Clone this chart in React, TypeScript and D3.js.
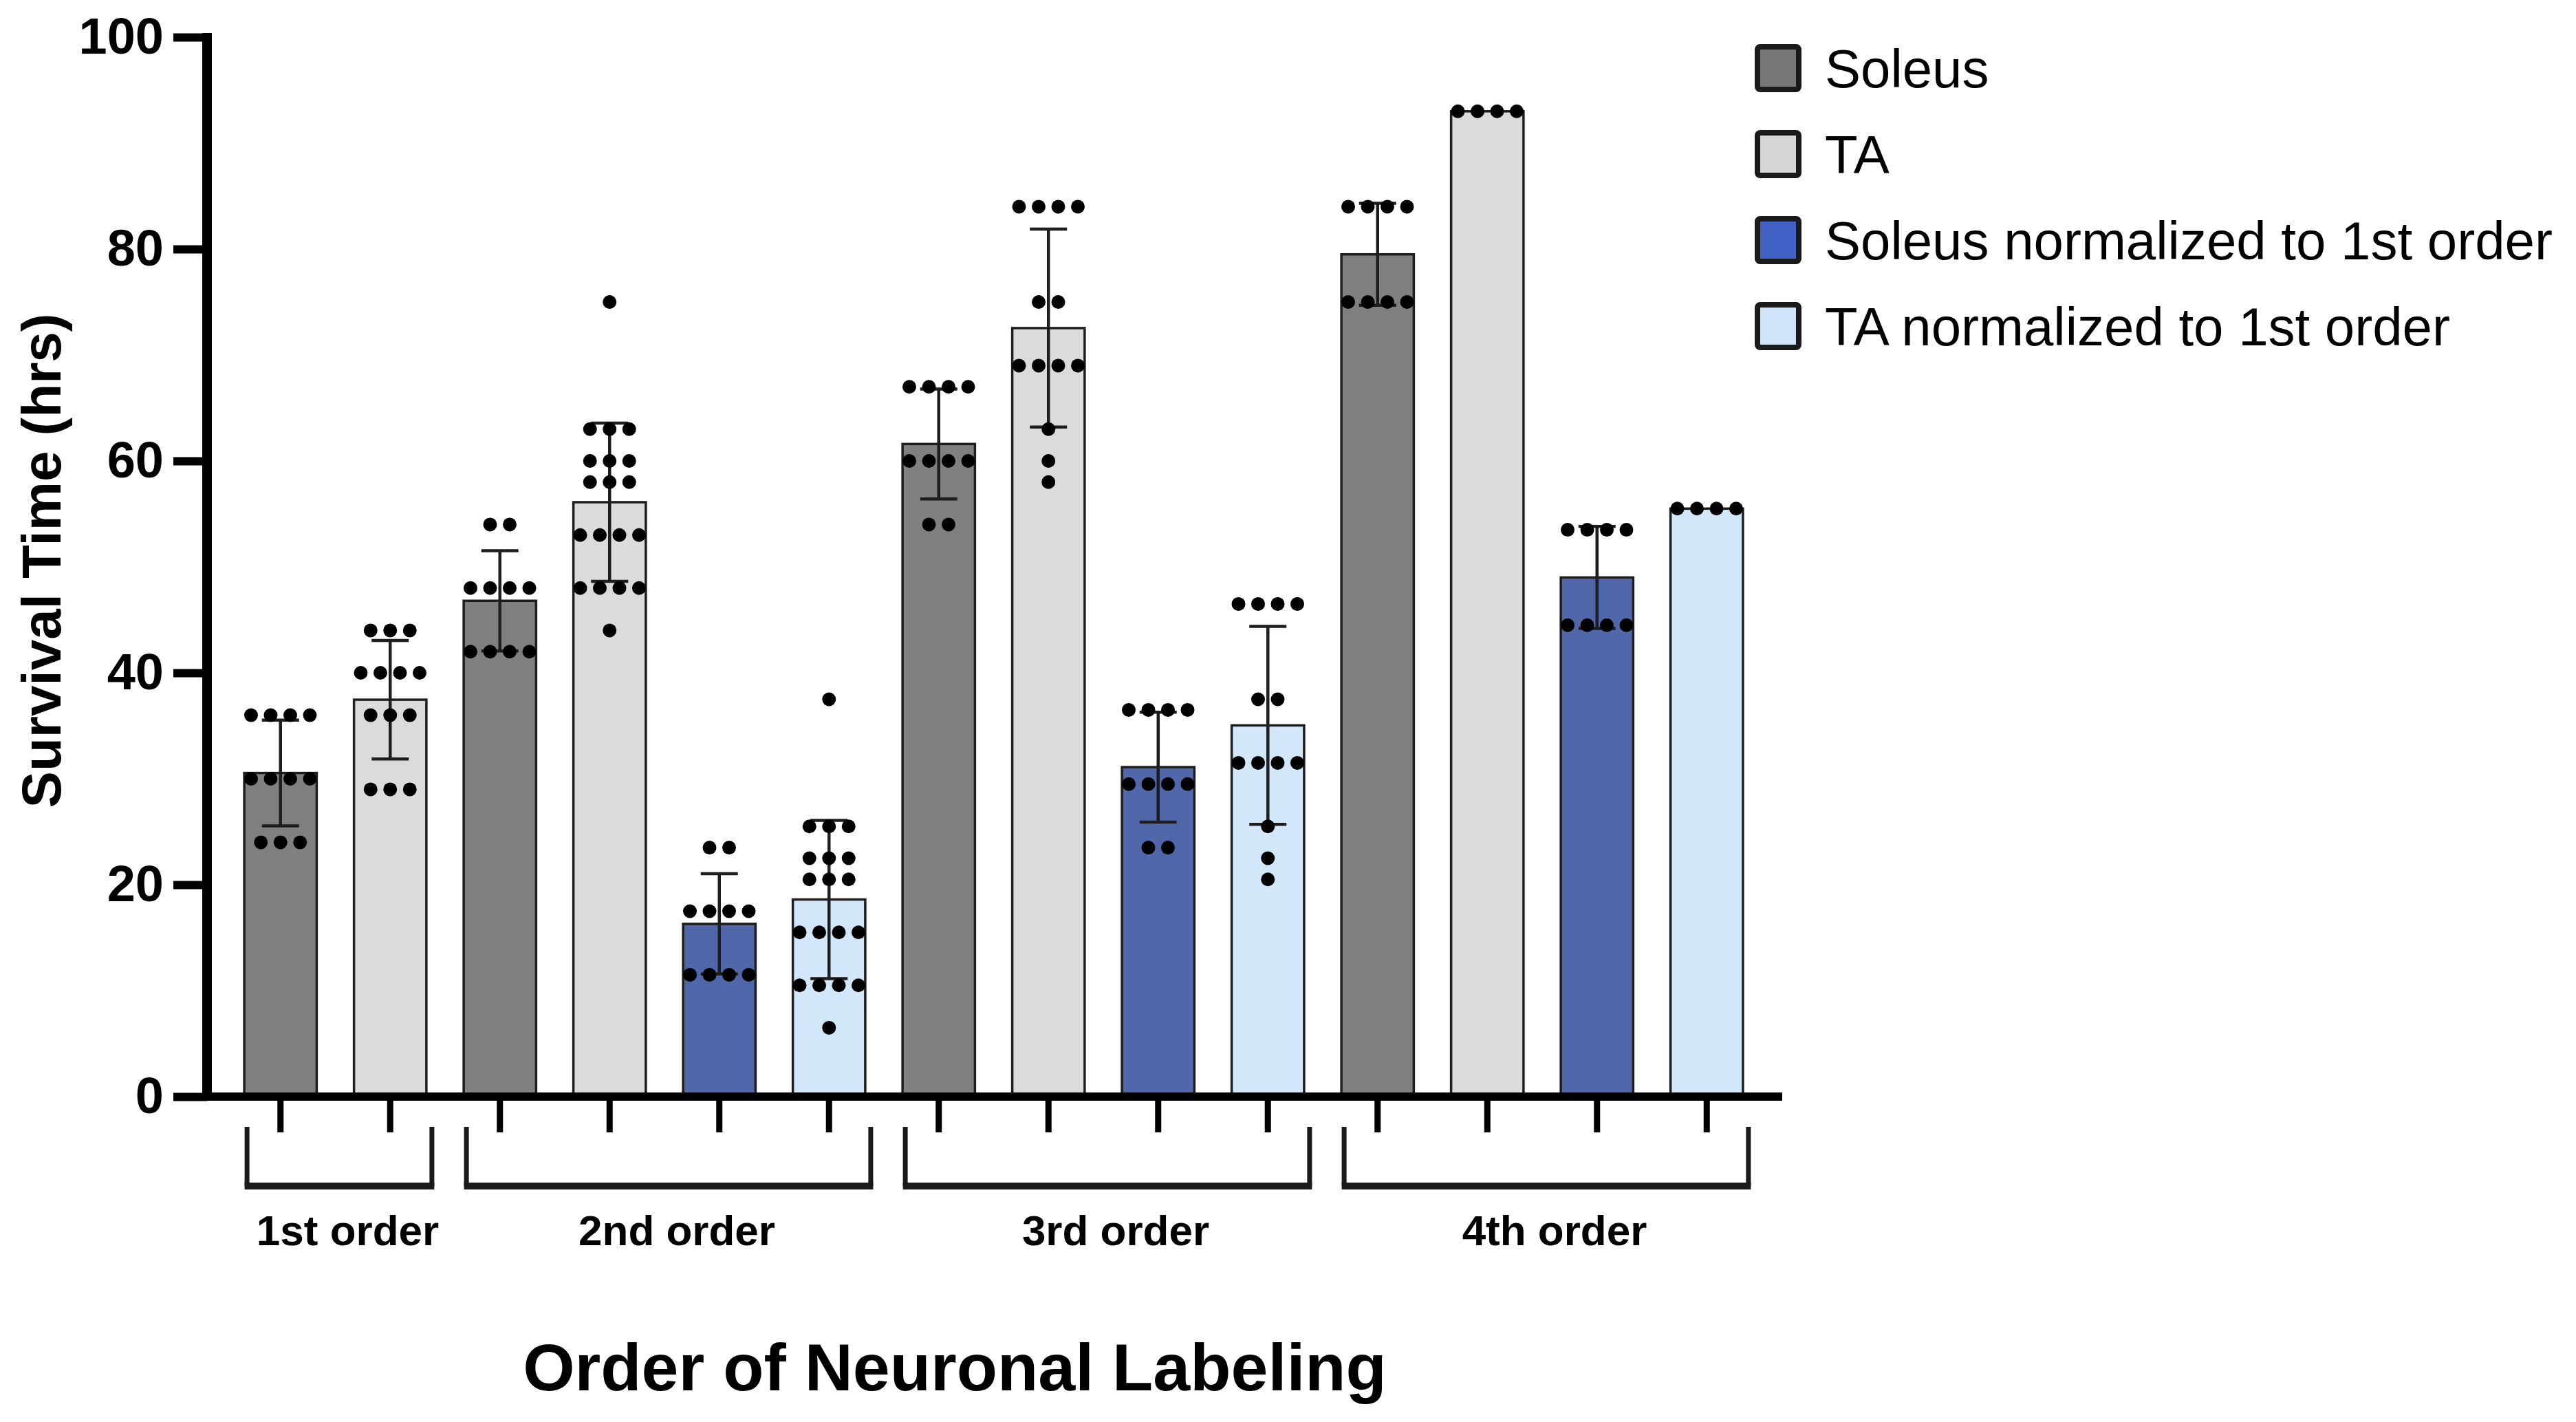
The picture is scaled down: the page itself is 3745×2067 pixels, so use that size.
import React, { useEffect, useRef } from 'react'
import * as d3 from 'd3'

// order groups along the x axis
const groups = ['1st order', '2nd order', '3rd order', '4th order']

const seriesNames = [
  'Soleus',
  'TA',
  'Soleus normalized to 1st order',
  'TA normalized to 1st order',
]

// individual animals per bar (hrs), one list per group
const soleusDots = [
  [36, 36, 36, 36, 30, 30, 30, 30, 24, 24, 24],
  [54, 54, 48, 48, 48, 48, 42, 42, 42, 42],
  [67, 67, 67, 67, 60, 60, 60, 60, 54, 54],
  [84, 84, 84, 84, 75, 75, 75, 75],
]
const taDots = [
  [44, 44, 44, 40, 40, 40, 40, 36, 36, 36, 29, 29, 29],
  [75, 63, 63, 63, 60, 60, 60, 58, 58, 58, 53, 53, 53, 53, 48, 48, 48, 48, 44],
  [84, 84, 84, 84, 75, 75, 69, 69, 69, 69, 63, 60, 58],
  [93, 93, 93, 93],
]
const soleusNormDots = [
  [],
  [23.5, 23.5, 17.5, 17.5, 17.5, 17.5, 11.5, 11.5, 11.5, 11.5],
  [36.5, 36.5, 36.5, 36.5, 29.5, 29.5, 29.5, 29.5, 23.5, 23.5],
  [53.5, 53.5, 53.5, 53.5, 44.5, 44.5, 44.5, 44.5],
]
const taNormDots = [
  [],
  [37.5, 25.5, 25.5, 25.5, 22.5, 22.5, 22.5, 20.5, 20.5, 20.5, 15.5, 15.5, 15.5, 15.5, 10.5, 10.5, 10.5, 10.5, 6.5],
  [46.5, 46.5, 46.5, 46.5, 37.5, 37.5, 31.5, 31.5, 31.5, 31.5, 25.5, 22.5, 20.5],
  [55.5, 55.5, 55.5, 55.5],
]

const yTicks = [0, 20, 40, 60, 80, 100]

const barColors = ['#808080', '#dbdbdb', '#5067a9', '#d3e7fb']
const swatchColors = ['#787878', '#d6d6d6', '#4261c6', '#cfe4fa']

const FONT = '"Liberation Sans", Arial, Helvetica, sans-serif'

interface Bar {
  id: string
  group: number
  series: number
  dots: number[]
}

export default function App() {
  const svgRef = useRef<SVGSVGElement>(null)

  useEffect(() => {
    if (!svgRef.current) return
    const svg = d3.select(svgRef.current)
    svg.selectAll('*').remove()

    const width = 3745
    const height = 2067
    const axisX = 301
    const axisEnd = 2591
    const yZero = 1594

    svg.append('rect').attr('width', width).attr('height', height).attr('fill', '#fff')

    const allDots = [soleusDots, taDots, soleusNormDots, taNormDots]
    const bars: Bar[] = []
    groups.forEach((_, gi) => {
      allDots.forEach((s, si) => {
        if (s[gi].length) bars.push({ id: `${gi}-${si}`, group: gi, series: si, dots: s[gi] })
      })
    })

    const x = d3
      .scaleBand()
      .domain(bars.map((b) => b.id))
      .range([328, 2561])
      .paddingInner(0.34)
      .paddingOuter(0.17)

    const y = d3.scaleLinear().domain([0, 100]).range([yZero, 54])

    const bw = x.bandwidth()
    const cx = (b: Bar) => (x(b.id) || 0) + bw / 2

    // bars
    svg
      .append('g')
      .selectAll('rect')
      .data(bars)
      .join('rect')
      .attr('x', (d) => x(d.id) || 0)
      .attr('width', bw)
      .attr('y', (d) => y(d3.mean(d.dots) || 0))
      .attr('height', (d) => yZero - y(d3.mean(d.dots) || 0))
      .attr('fill', (d) => barColors[d.series])
      .attr('stroke', '#1e1e1e')
      .attr('stroke-width', 3.5)

    // mean +/- SD
    const errG = svg.append('g').attr('stroke', '#1e1e1e').attr('stroke-width', 4.5)
    bars.forEach((b) => {
      const m = d3.mean(b.dots) || 0
      const sd = d3.deviation(b.dots) || 0
      if (sd < 0.01) return
      const c = cx(b)
      errG.append('line').attr('x1', c).attr('x2', c).attr('y1', y(m + sd)).attr('y2', y(m - sd))
      ;[m + sd, m - sd].forEach((v) => {
        errG
          .append('line')
          .attr('x1', c - 27)
          .attr('x2', c + 27)
          .attr('y1', y(v))
          .attr('y2', y(v))
      })
    })

    // scatter dots, stacked side by side per value
    const dotG = svg.append('g').attr('fill', '#000')
    bars.forEach((b) => {
      const rows = d3.group(b.dots, (v) => v)
      rows.forEach((vals, v) => {
        vals.forEach((_, i) => {
          dotG
            .append('circle')
            .attr('cx', cx(b) + (i - (vals.length - 1) / 2) * 28.5)
            .attr('cy', y(v))
            .attr('r', 10)
        })
      })
    })

    // y axis
    const yAxis = svg
      .append('g')
      .attr('transform', `translate(${axisX},0)`)
      .call(d3.axisLeft(y).tickValues(yTicks).tickSize(49).tickSizeOuter(0).tickPadding(14))
    yAxis.select('.domain').remove()
    yAxis.selectAll('.tick line').attr('stroke', '#000').attr('stroke-width', 12)
    yAxis
      .selectAll('.tick text')
      .attr('fill', '#000')
      .style('font-family', FONT)
      .style('font-size', '74px')
      .style('font-weight', 'bold')
    svg
      .append('line')
      .attr('x1', axisX)
      .attr('x2', axisX)
      .attr('y1', y(100) - 6)
      .attr('y2', yZero + 6)
      .attr('stroke', '#000')
      .attr('stroke-width', 14)

    // x axis with a tick under each bar
    const xAxis = svg
      .append('g')
      .attr('transform', `translate(0,${yZero})`)
      .call(d3.axisBottom(x).tickSize(52).tickSizeOuter(0).tickFormat(() => ''))
    xAxis.select('.domain').remove()
    xAxis.selectAll('.tick line').attr('stroke', '#000').attr('stroke-width', 9)
    svg
      .append('line')
      .attr('x1', axisX - 7)
      .attr('x2', axisEnd)
      .attr('y1', yZero)
      .attr('y2', yZero)
      .attr('stroke', '#000')
      .attr('stroke-width', 12)

    // group brackets
    const brG = svg.append('g')
    groups.forEach((name, gi) => {
      const gb = bars.filter((b) => b.group === gi)
      const x0 = (x(gb[0].id) || 0) + 4
      const x1 = (x(gb[gb.length - 1].id) || 0) + bw + 8
      const top = 1638
      const bot = 1724
      brG
        .append('path')
        .attr('d', `M${x0},${top}V${bot}M${x1},${top}V${bot}`)
        .attr('stroke', '#1a1a1a')
        .attr('stroke-width', 7)
        .attr('fill', 'none')
      brG
        .append('line')
        .attr('x1', x0 - 3.5)
        .attr('x2', x1 + 3.5)
        .attr('y1', bot)
        .attr('y2', bot)
        .attr('stroke', '#1a1a1a')
        .attr('stroke-width', 10)
      brG
        .append('text')
        .attr('x', (x0 + x1) / 2 + 12)
        .attr('y', 1810)
        .attr('text-anchor', 'middle')
        .style('font-family', FONT)
        .style('font-size', '62px')
        .style('font-weight', 'bold')
        .text(name)
    })

    // axis titles
    svg
      .append('text')
      .attr('transform', `translate(88,815) rotate(-90)`)
      .attr('text-anchor', 'middle')
      .style('font-family', FONT)
      .style('font-size', '80px')
      .style('font-weight', 'bold')
      .text('Survival Time (hrs)')

    svg
      .append('text')
      .attr('x', 1388)
      .attr('y', 2021)
      .attr('text-anchor', 'middle')
      .style('font-family', FONT)
      .style('font-size', '97px')
      .style('font-weight', 'bold')
      .text('Order of Neuronal Labeling')

    // legend
    const legend = svg.append('g').attr('transform', 'translate(2551,99)')
    legend
      .selectAll('g')
      .data(seriesNames)
      .join('g')
      .attr('transform', (_, i) => `translate(0,${i * 125})`)
      .each(function (d, i) {
        const g = d3.select(this)
        g.append('rect')
          .attr('x', 4)
          .attr('y', -31)
          .attr('width', 60)
          .attr('height', 62)
          .attr('rx', 4)
          .attr('fill', swatchColors[i])
          .attr('stroke', '#1a1a1a')
          .attr('stroke-width', 8)
        g.append('text')
          .attr('x', 102)
          .attr('y', 0)
          .attr('dy', '0.36em')
          .style('font-family', FONT)
          .style('font-size', '78px')
          .text(d)
      })
  }, [])

  return (
    <svg
      ref={svgRef}
      width={3745}
      height={2067}
      style={{ position: 'absolute', left: 0, top: 0, display: 'block' }}
    />
  )
}
